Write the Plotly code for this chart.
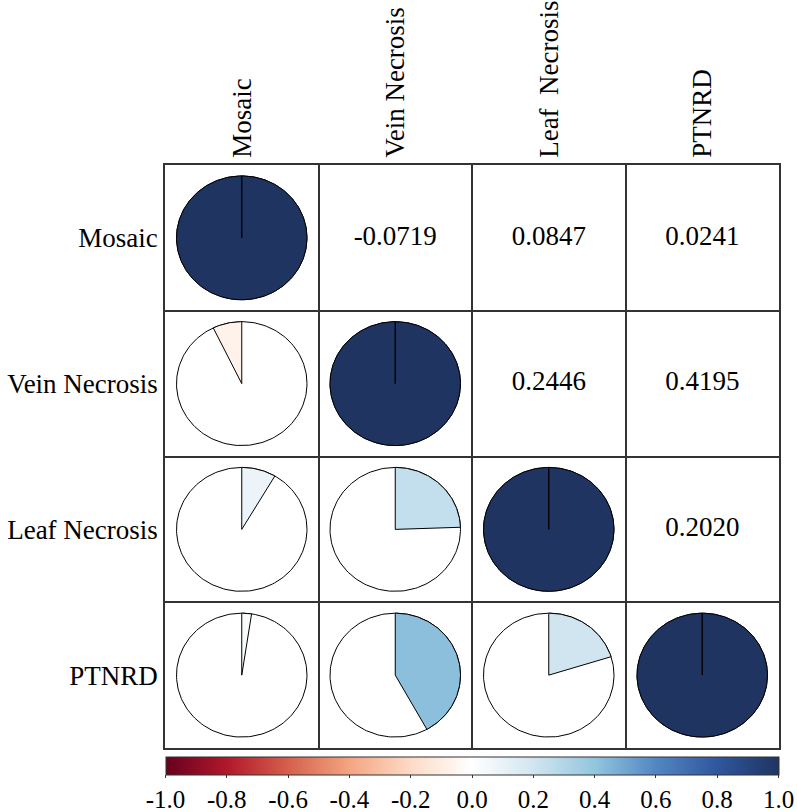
import numpy as np
import plotly.graph_objects as go
from plotly.colors import sample_colorscale

# ---------------- data ----------------
variables = ["Mosaic", "Vein Necrosis", "Leaf Necrosis", "PTNRD"]
col_labels = ["Mosaic", "Vein Necrosis", "Leaf\u00a0\u00a0Necrosis", "PTNRD"]
corr = [
    [1.0000, -0.0719, 0.0847, 0.0241],
    [-0.0719, 1.0000, 0.2446, 0.4195],
    [0.0847, 0.2446, 1.0000, 0.2020],
    [0.0241, 0.4195, 0.2020, 1.0000],
]
cbar_tickvals = [-1.0, -0.8, -0.6, -0.4, -0.2, 0.0, 0.2, 0.4, 0.6, 0.8, 1.0]
cbar_ticktext = ["-1.0", "-0.8", "-0.6", "-0.4", "-0.2", "0.0", "0.2", "0.4", "0.6", "0.8", "1.0"]

colorscale = [
    [0.0, "#67001F"], [0.1, "#B2182B"], [0.2, "#D6604D"], [0.3, "#F4A582"],
    [0.4, "#FDDBC7"], [0.5, "#FFFFFF"], [0.6, "#D1E5F0"], [0.7, "#92C5DE"],
    [0.8, "#5286C2"], [0.9, "#30569E"], [1.0, "#1F3461"],
]

FONT = "Liberation Serif"
LINE = "#333333"
n = len(variables)
R = 0.425  # pie radius in data units

fig = go.Figure()

def yc(i):
    return n - i - 0.5

for i in range(n):
    for j in range(n):
        r = corr[i][j]
        cx, cy = j + 0.5, yc(i)
        if j <= i:
            t = np.linspace(0, 2 * np.pi, 181)
            fig.add_trace(go.Scatter(
                x=cx + R * np.cos(t), y=cy + R * np.sin(t), mode="lines",
                fill="toself", fillcolor="white",
                line=dict(color="black", width=1), hoverinfo="skip"))
            sweep = 2 * np.pi * abs(r)
            sign = -1 if r >= 0 else 1
            ang = np.pi / 2 + sign * np.linspace(0, sweep, max(3, int(360 * abs(r)) + 2))
            xs = np.concatenate([[cx], cx + R * np.cos(ang), [cx]])
            ys = np.concatenate([[cy], cy + R * np.sin(ang), [cy]])
            col = sample_colorscale(colorscale, [(r + 1) / 2])[0]
            fig.add_trace(go.Scatter(
                x=xs, y=ys, mode="lines", fill="toself", fillcolor=col,
                line=dict(color="black", width=1), hoverinfo="skip"))
        else:
            fig.add_trace(go.Scatter(
                x=[cx], y=[cy], mode="text", text=[f"{r:.4f}"],
                textfont=dict(family=FONT, size=27, color="black"),
                hoverinfo="skip"))

# colorbar carrier
fig.add_trace(go.Scatter(
    x=[0.5, 0.5], y=[0.5, 0.5], mode="markers", hoverinfo="skip",
    marker=dict(color=[-1, 1], cmin=-1, cmax=1, colorscale=colorscale, opacity=0,
                showscale=True,
                colorbar=dict(
                    orientation="h", x=0.5, xanchor="center",
                    y=-(9 / 583), yanchor="top", yref="paper",
                    lenmode="pixels", len=613, thickness=18,
                    xpad=0, ypad=0,
                    outlinewidth=1, outlinecolor=LINE,
                    tickmode="array", tickvals=cbar_tickvals, ticktext=cbar_ticktext,
                    ticks="outside", ticklen=3, tickcolor=LINE, tickwidth=1,
                    tickfont=dict(family=FONT, size=25, color="black"),
                ))))

fig.update_layout(
    width=797, height=812,
    margin=dict(l=165, r=18, t=165, b=64, autoexpand=False),
    plot_bgcolor="white", paper_bgcolor="white",
    showlegend=False,
    font=dict(family=FONT),
    xaxis=dict(
        range=[0, n], side="top", tickmode="array",
        tickvals=[k + 0.5 for k in range(n)], ticktext=col_labels,
        tickangle=-90, ticks="", showgrid=False, zeroline=False,
        showline=True, mirror=True, linecolor=LINE, linewidth=1.5,
        ticklabelstandoff=0, automargin=False,
        tickfont=dict(family=FONT, size=27, color="black"),
        minor=dict(tickmode="array", tickvals=list(range(1, n)), showgrid=True,
                   gridcolor=LINE, gridwidth=1.5, ticks=""),
        fixedrange=True,
    ),
    yaxis=dict(
        range=[0, n], tickmode="array",
        tickvals=[yc(k) for k in range(n)], ticktext=variables,
        ticks="", showgrid=False, zeroline=False,
        showline=True, mirror=True, linecolor=LINE, linewidth=1.5,
        ticklabelstandoff=0, automargin=False,
        tickfont=dict(family=FONT, size=27, color="black"),
        minor=dict(tickmode="array", tickvals=list(range(1, n)), showgrid=True,
                   gridcolor=LINE, gridwidth=1.5, ticks=""),
        fixedrange=True,
    ),
)

fig.write_html("out.html", config={"displayModeBar": False},
               post_script="document.body.style.margin='0px';")
